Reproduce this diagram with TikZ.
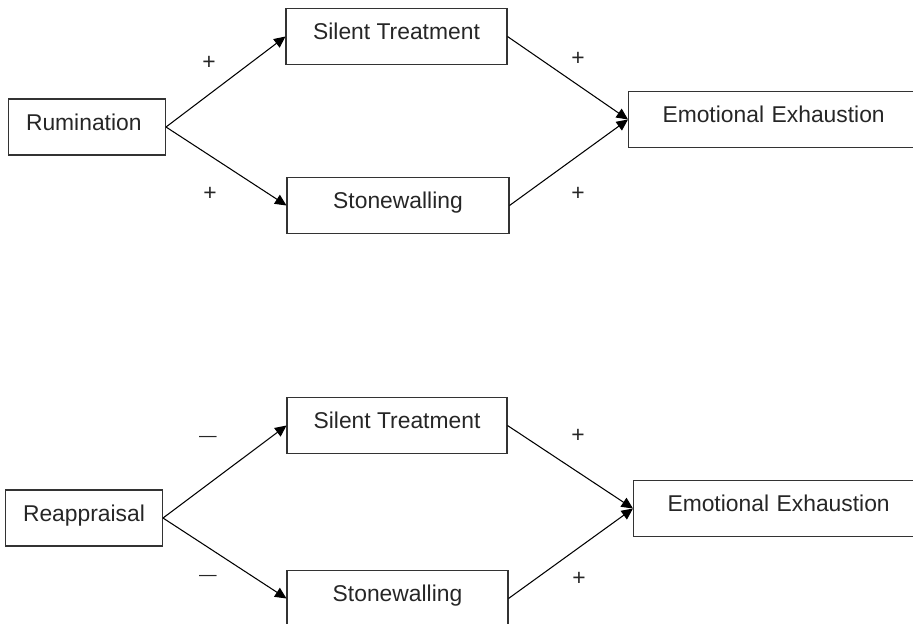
\documentclass[tikz,border=0pt]{standalone}
\usepackage{fontspec}
\setmainfont{Liberation Sans}
\usetikzlibrary{arrows.meta}

\begin{document}
\begin{tikzpicture}[x=0.02cm,y=-0.02cm,line width=0.6pt,
    sign/.style={font=\fontsize{13}{15}\selectfont,text=black!85},
    minus/.style={font=\fontsize{10}{12}\selectfont,text=black!85},
    inbox/.style={anchor=west,inner xsep=0.35cm,text width=2.44cm,align=left},
    outbox/.style={anchor=west,inner xsep=0.68cm,text width=6cm,align=left}]
\path[use as bounding box,clip] (0,0) rectangle (913,623);
\begin{scope}[every node/.style={draw=black!80,inner sep=3pt,minimum height=1.12cm,
    text height=14.6pt,text depth=11.1pt,text=black!85,font=\fontsize{13}{15}\selectfont}]
    % upper model
    \node[inbox] (rum) at (8,127) {Rumination};
    \node[minimum width=4.42cm] (sil1) at (396.5,36.5) {Silent Treatment};
    \node[minimum width=4.44cm] (sto1) at (398,205.5) {Stonewalling};
    \node[outbox] (exh1) at (628,119.5) {Emotional Exhaustion};
    % lower model
    \node[inbox] (rea) at (5,518) {Reappraisal};
    \node[minimum width=4.40cm] (sil2) at (397,425.5) {Silent Treatment};
    \node[minimum width=4.42cm] (sto2) at (397.5,598.5) {Stonewalling};
    \node[outbox] (exh2) at (633,508.5) {Emotional Exhaustion};
\end{scope}

\path [-{Triangle[length=6.5pt,width=6pt]}] (rum.east) edge (sil1.west);
\path [-{Triangle[length=6.5pt,width=6pt]}] (rum.east) edge (sto1.west);
\path [-{Triangle[length=6.5pt,width=6pt]}] (sil1.east) edge (exh1.west);
\path [-{Triangle[length=6.5pt,width=6pt]}] (sto1.east) edge (exh1.west);

\path [-{Triangle[length=6.5pt,width=6pt]}] (rea.east) edge (sil2.west);
\path [-{Triangle[length=6.5pt,width=6pt]}] (rea.east) edge (sto2.west);
\path [-{Triangle[length=6.5pt,width=6pt]}] (sil2.east) edge (exh2.west);
\path [-{Triangle[length=6.5pt,width=6pt]}] (sto2.east) edge (exh2.west);

\node[sign] (s1) at (209,63) {+};
\node[sign] (s2) at (210,194) {+};
\node[sign] (s3) at (578,59) {+};
\node[sign] (s4) at (578,194) {+};

\node[minus] (m1) at (208,439) {—};
\node[minus] (m2) at (208,578) {—};
\node[sign] (s5) at (578,436) {+};
\node[sign] (s6) at (579,579) {+};
\end{tikzpicture}
\end{document}
